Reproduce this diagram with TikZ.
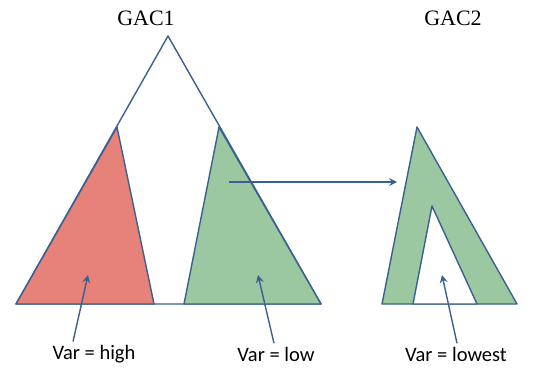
\documentclass[tikz,border=0pt]{standalone}
\usepackage{fontspec}
\setmainfont{Liberation Serif}
\newfontfamily\calfont{Carlito}
\usetikzlibrary{arrows.meta,positioning}
\definecolor{edge}{HTML}{3A6090}
\definecolor{highred}{HTML}{E7827A}
\definecolor{lowgreen}{HTML}{9BC8A0}

\begin{document}
\begin{tikzpicture}[
  x=1pt, y=-1pt,
  tree/.style={draw=edge, line width=1.4pt, line join=round},
  title/.style={font=\fontsize{22}{24}\selectfont},
  varlabel/.style={font=\calfont\fontsize{20.5}{22}\selectfont},
  pointer/.style={-{Stealth[length=8pt,width=8pt,inset=3pt]}, draw=edge, line width=1.4pt}
]
\useasboundingbox (0,0) rectangle (538,367);

% GAC1
\draw[tree] (16,304) -- (168,36) -- (321,304) -- cycle;
\draw[tree, fill=highred] (16,304) -- (117,127) -- (154,304) -- cycle;
\draw[tree, fill=lowgreen] (184,304) -- (219,127) -- (321,304) -- cycle;
\node[title] (gac1) at (146,18) {GAC1};

% GAC2
\draw[tree, fill=lowgreen] (382,304) -- (417,127) -- (517,304) -- cycle;
\draw[tree, fill=white] (413,304) -- (432,206) -- (477,304) -- cycle;
\node[title] (gac2) at (453,18) {GAC2};

% copy of the low-variance subtree
\coordinate (src) at (229,182);
\coordinate (dst) at (397,182);
\draw[pointer] (src) -- (dst);

% labels
\node[varlabel] (high) at (94,354) {Var = high};
\node[varlabel] (low) at (276,354) {Var = low};
\node[varlabel] (lowest) at (456,354) {Var = lowest};

\coordinate (hightip) at (88,275);
\coordinate (lowtip) at (258,275);
\coordinate (lowesttip) at (442,275);
\draw[pointer] (high.north -| 73,0) -- (hightip);
\draw[pointer] (low.north -| 274,0) -- (lowtip);
\draw[pointer] (lowest.north -| 457,0) -- (lowesttip);
\end{tikzpicture}
\end{document}
